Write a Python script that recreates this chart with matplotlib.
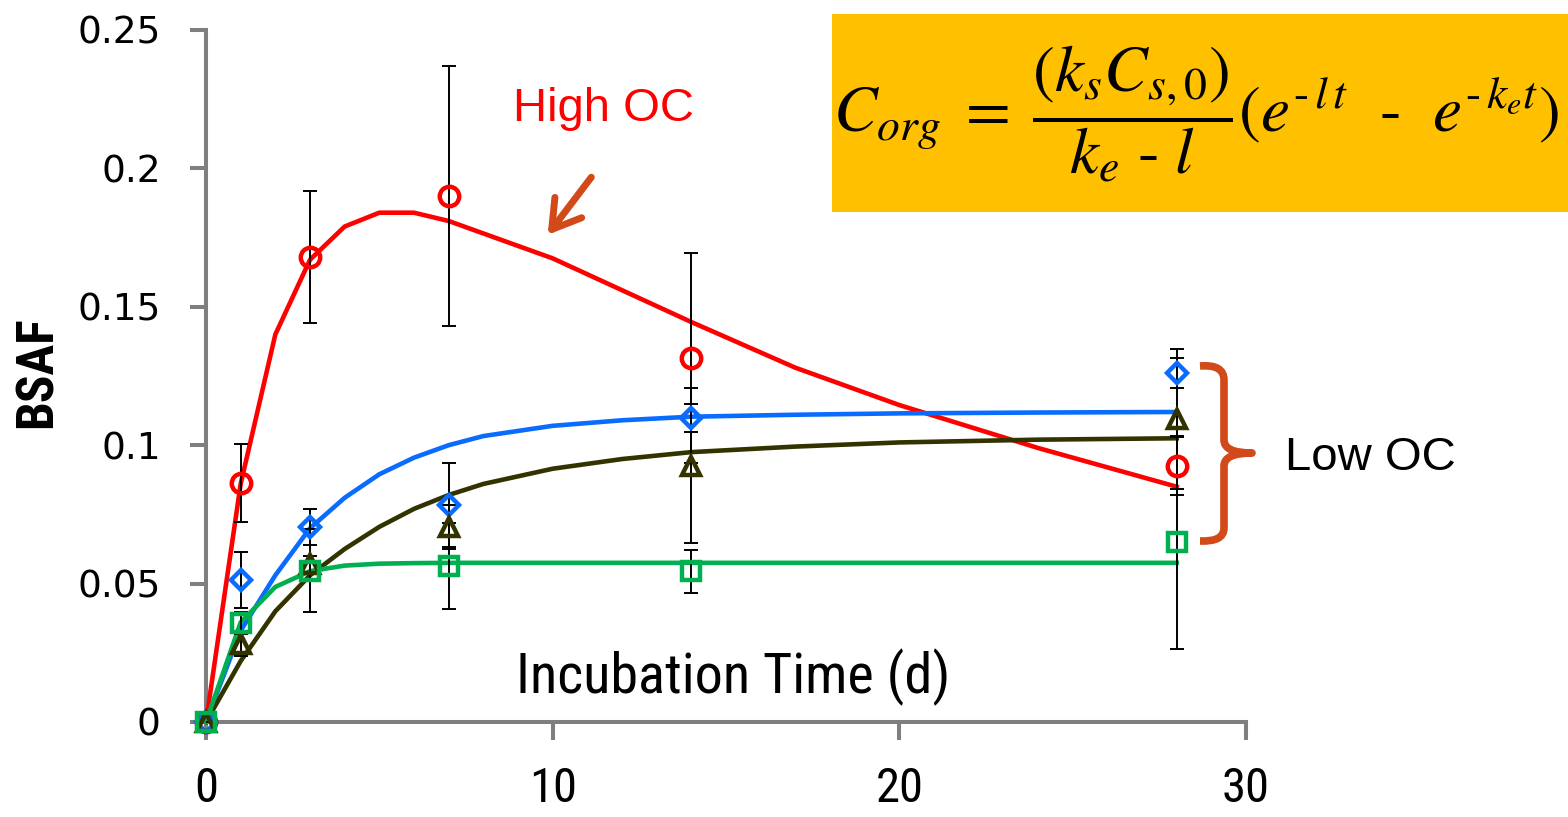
import matplotlib
matplotlib.use("Agg")
import matplotlib.pyplot as plt
from matplotlib.transforms import Affine2D
from matplotlib.patches import Rectangle, PathPatch, FancyArrowPatch
from matplotlib.path import Path
from matplotlib import font_manager as fm

# ---------------- data ----------------
days = [0, 1, 3, 7, 14, 28]
high_oc = [0, 0.0863, 0.168, 0.190, 0.1315, 0.0925]
high_oc_err = [0, 0.014, 0.024, 0.047, 0.038, 0.0105]
low_blue = [0, 0.0513, 0.0705, 0.0784, 0.1098, 0.126]
low_blue_err = [0, 0.010, 0.0065, 0.0152, 0.005, 0.0055]
low_dark = [0, 0.028, 0.057, 0.0705, 0.0925, 0.1095]
low_dark_err = [0, 0.004, 0.003, 0.008, 0.028, 0.0253]
low_green = [0, 0.0358, 0.0546, 0.0564, 0.0545, 0.065]
low_green_err = [0, 0.004, 0.015, 0.0155, 0.0078, 0.0385]

fit_days = [0, 1, 2, 3, 4, 5, 6, 7, 8, 10, 12, 14, 17, 20, 24, 28]
fit_high = [0, 0.086, 0.140, 0.167, 0.179, 0.184, 0.184, 0.181, 0.1765, 0.1675,
            0.156, 0.1445, 0.128, 0.1145, 0.099, 0.085]
fit_blue = [0, 0.033, 0.053, 0.070, 0.081, 0.0895, 0.0955, 0.100, 0.1033, 0.107,
            0.109, 0.1103, 0.111, 0.1115, 0.1118, 0.112]
fit_dark = [0, 0.022, 0.040, 0.053, 0.0625, 0.0705, 0.077, 0.082, 0.086, 0.0915,
            0.095, 0.0975, 0.0995, 0.101, 0.102, 0.1025]
fit_green = [0, 0.036, 0.0488, 0.0545, 0.0565, 0.0572, 0.0574, 0.0575, 0.0575,
             0.0575, 0.0575, 0.0575, 0.0575, 0.0575, 0.0575, 0.0575]

xticks = [0, 10, 20, 30]
yticks = [0, 0.05, 0.1, 0.15, 0.2, 0.25]
ytick_labels = ["0", "0.05", "0.1", "0.15", "0.2", "0.25"]

# ---------------- fonts ----------------
def find_narrow(bold=False):
    best = None
    for f in fm.fontManager.ttflist:
        fn = f.fname.lower()
        if not ("condensed" in fn or "narrow" in fn):
            continue
        if "italic" in fn or "oblique" in fn:
            continue
        if "semi" in fn or "extra" in fn:
            continue
        isbold = "bold" in fn and "semibold" not in fn and "extrabold" not in fn
        if bold != isbold:
            continue
        if not bold and any(k in fn for k in ["light", "thin", "medium", "black", "semibold"]):
            continue
        score = 0
        if "liberation" in fn:
            score = 3
        elif "roboto" in fn:
            score = 2
        elif "noto" in fn or "opensans" in fn:
            score = 1
        if best is None or score > best[0]:
            best = (score, f.fname)
    if best is None:
        return fm.FontProperties(family="DejaVu Sans", stretch="condensed",
                                 weight="bold" if bold else "normal")
    return fm.FontProperties(fname=best[1])

NARROW = find_narrow(False)
NARROW_B = find_narrow(True)
plt.rcParams["mathtext.fontset"] = "stix"

W, H = 1568, 817
fig = plt.figure(figsize=(W / 100, H / 100), dpi=100)
pxT = Affine2D().scale(1 / W, -1 / H).translate(0, 1) + fig.transFigure

ax = fig.add_axes([206 / W, 1 - 722 / H, (1246 - 206) / W, (722 - 30) / H])
ax.set_xlim(0, 30)
ax.set_ylim(0, 0.25)

RED = "#FF0000"
BLUE = "#0A6CFF"
DARK = "#333300"
GREEN = "#00B050"
GRAY = "#7F7F7F"
ORANGE = "#D24A1A"

lw = 3.3
ax.plot(fit_days, fit_high, color=RED, lw=lw, zorder=3, clip_on=False)
ax.plot(fit_days, fit_blue, color=BLUE, lw=lw, zorder=3, clip_on=False)
ax.plot(fit_days, fit_dark, color=DARK, lw=lw, zorder=3, clip_on=False)
ax.plot(fit_days, fit_green, color=GREEN, lw=lw, zorder=3, clip_on=False)

eb = dict(fmt="none", ecolor="black", elinewidth=1.4, capsize=5, capthick=1.4, zorder=4)
for vals, errs in [(high_oc, high_oc_err), (low_blue, low_blue_err),
                   (low_dark, low_dark_err), (low_green, low_green_err)]:
    ax.errorbar(days, vals, yerr=errs, **eb)

ax.plot(days, high_oc, ls="none", marker="o", ms=14, mfc="none", mec=RED, mew=3.2, zorder=5, clip_on=False)
ax.plot(days, low_blue, ls="none", marker="D", ms=10.5, mfc="none", mec=BLUE, mew=3.2, zorder=5, clip_on=False)
ax.plot(days, low_dark, ls="none", marker="^", ms=12.5, mfc="none", mec=DARK, mew=3.2, zorder=5, clip_on=False)
ax.plot(days, low_green, ls="none", marker="s", ms=12.5, mfc="none", mec=GREEN, mew=3.2, zorder=5, clip_on=False)

for s in ["top", "right"]:
    ax.spines[s].set_visible(False)
for s in ["left", "bottom"]:
    ax.spines[s].set_color(GRAY)
    ax.spines[s].set_linewidth(2.9)

ax.set_yticks(yticks)
ax.set_yticklabels(ytick_labels)
ax.set_xticks(xticks)
ax.set_xticklabels([str(v) for v in xticks])
ax.tick_params(axis="y", direction="out", length=11.5, width=2.9, color=GRAY,
               pad=21, labelsize=27)
ax.tick_params(axis="x", direction="out", length=13, width=2.9, color=GRAY,
               pad=19)
for lab in ax.get_xticklabels():
    lab.set_fontproperties(NARROW)
    lab.set_fontsize(35)
for lab in ax.get_yticklabels():
    lab.set_family("DejaVu Sans")

# axis titles placed as in the reference
fig.text(38, 372, "BSAF", transform=pxT, rotation=90, ha="center", va="center",
         fontproperties=NARROW_B, fontsize=37)
fig.text(733, 693, "Incubation Time (d)", transform=pxT, ha="center", va="baseline",
         fontproperties=NARROW, fontsize=40.5)

# annotations
fig.text(604, 121, "High OC", transform=pxT, ha="center", va="baseline",
         family="Liberation Sans", fontsize=34, color=RED)
fig.text(1370, 470, "Low OC", transform=pxT, ha="center", va="baseline",
         family="Liberation Sans", fontsize=34, color="black")

arrow = FancyArrowPatch((593, 175), (546, 237), transform=pxT,
                        arrowstyle="->,head_length=0.9,head_width=0.55",
                        mutation_scale=22, color=ORANGE, lw=5, capstyle="round",
                        joinstyle="round")
fig.patches.append(arrow)

# curly brace
verts = [(1200, 366), (1224, 364), (1224, 380),
         (1224, 440),
         (1224, 453), (1252, 453),
         (1224, 453), (1224, 466),
         (1224, 528),
         (1224, 542), (1200, 541)]
codes = [Path.MOVETO, Path.CURVE3, Path.CURVE3,
         Path.LINETO,
         Path.CURVE3, Path.CURVE3,
         Path.CURVE3, Path.CURVE3,
         Path.LINETO,
         Path.CURVE3, Path.CURVE3]
brace = PathPatch(Path(verts, codes), transform=pxT, fill=False, edgecolor=ORANGE,
                  lw=5.5, capstyle="butt", joinstyle="round")
fig.patches.append(brace)

# formula box
box = Rectangle((832, 14), 1568 - 832, 198, transform=pxT, facecolor="#FFC000",
                edgecolor="none", zorder=0)
fig.patches.append(box)
formula = (r"$C_{org}\;=\;\dfrac{(k_s C_{s,0})}{k_e\ \text{-}\ l}"
           r"(e^{\text{-}\,l\, t}\ \ \text{-}\ \ e^{\text{-}\,k_e t})$")
fig.text(1196, 114, formula, transform=pxT, ha="center", va="center",
         fontsize=47, color="black")

fig.savefig("out.png", dpi=100)
